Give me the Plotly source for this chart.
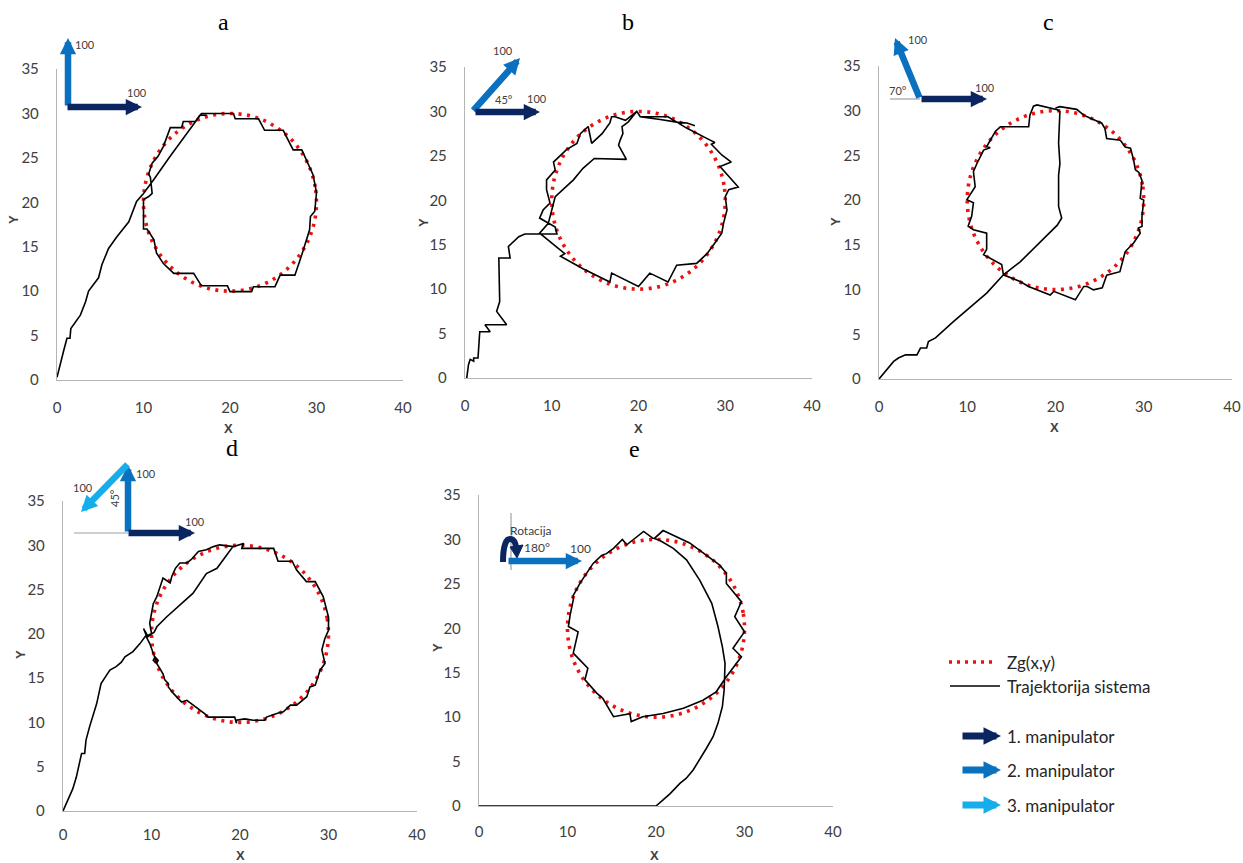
import plotly.graph_objects as go

W, H = 1243, 863

# ---------------- data ----------------
PANELS = ["a", "b", "c", "d", "e"]
X_TICKS = [0, 10, 20, 30, 40]
Y_TICKS = [0, 5, 10, 15, 20, 25, 30, 35]

# reference circle Zg(x,y) (centre 20,20, r 10)
CIRCLE_X = [30, 29.85, 29.40, 28.66, 27.66, 26.43, 25.00, 23.42, 21.74, 20, 18.26, 16.58, 15.00,
            13.57, 12.34, 11.34, 10.60, 10.15, 10, 10.15, 10.60, 11.34, 12.34, 13.57, 15.00,
            16.58, 18.26, 20, 21.74, 23.42, 25.00, 26.43, 27.66, 28.66, 29.40, 29.85, 30]
CIRCLE_Y = [20, 21.74, 23.42, 25.00, 26.43, 27.66, 28.66, 29.40, 29.85, 30, 29.85, 29.40, 28.66,
            27.66, 26.43, 25.00, 23.42, 21.74, 20, 18.26, 16.58, 15.00, 13.57, 12.34, 11.34,
            10.60, 10.15, 10, 10.15, 10.60, 11.34, 12.34, 13.57, 15.00, 16.58, 18.26, 20]

TRAJ_A = [(0, 0.3), (0.4, 1.7), (0.8, 3.4), (1.15, 4.7), (1.5, 4.7), (1.6, 5.8), (2.7, 7.3), (3.3, 8.8),
          (3.65, 10), (4.8, 11.5), (5.2, 13), (5.96, 14.8), (6.9, 16.1), (8.3, 17.8), (9.2, 20.1),
          (10, 21), (11.15, 22.5), (13.1, 25.2), (15, 27.8), (16.7, 30), (20.4, 30), (20.6, 29.4),
          (23.3, 29.4), (24.0, 28.1), (26.15, 28.1), (27.3, 25.9), (28.3, 25.9), (29.6, 23.1),
          (30, 21.1), (29.8, 19), (29.3, 18.4), (29.2, 16.9), (28.3, 14.1), (27.5, 11.8),
          (25.8, 11.8), (25.2, 10.5), (22.7, 10.5), (22.5, 9.95), (20, 9.95), (19.7, 10.6),
          (16.7, 10.6), (15.8, 12), (13.5, 12), (12.3, 13.1), (11.5, 14.3), (11.2, 15.8),
          (10.4, 17), (10, 17), (10, 20.3), (10.6, 20.65), (11, 21), (10.8, 22.8), (10.6, 23.2),
          (11, 24.4), (11.7, 25.2), (12.3, 26.3), (13.1, 28.4), (14.4, 28.4), (14.6, 29.1),
          (16, 29.1), (16.5, 29.8), (17.3, 29.8)]

TRAJ_B = [(0.2, 0), (0.4, 1.5), (0.6, 2.1), (1.0, 1.9), (1.0, 2.25), (1.5, 2.25), (1.7, 5.2), (2.9, 5.2),
          (2.3, 6.0), (4.8, 6.0), (3.65, 7.5), (4.0, 8.6), (3.9, 13.5), (5.2, 13.5), (5.0, 14.8),
          (5.6, 15.35), (6.2, 15.9), (6.9, 16.2), (10.6, 16.2), (10.4, 17.0), (8.6, 18.0), (9.0, 18.9),
          (9.8, 19.7), (9.4, 21.2), (9.4, 22.3), (10.4, 23.4), (10.2, 24.3), (11.7, 25.7),
          (12.9, 26.4), (13.3, 27.5), (14.2, 28.3), (14.6, 26.4), (15.8, 27.5), (16.7, 28.7),
          (16.9, 29.4), (17.3, 29.4), (18.5, 29.0), (19.8, 30.0), (20.2, 29.4), (23.4, 29.4),
          (25.6, 28.1), (28.2, 26.8), (28.8, 26.5), (28.4, 26.3), (29.6, 25.1), (30.7, 24.3),
          (29.4, 23.8), (31.5, 21.5), (30.4, 21.2), (30, 20.4), (30.2, 18.9), (29.8, 17.4),
          (29.6, 16.3), (28.8, 15.2), (27.9, 14.0), (26.7, 12.9), (24.4, 12.7), (23.4, 10.8),
          (21.3, 11.8), (20.0, 10.3), (16.9, 11.8), (16.7, 10.8), (13.6, 12.3), (11.0, 13.7),
          (11.5, 14.0), (8.6, 16.3), (9.6, 17.4), (10.4, 20.4), (12.5, 22.3), (13.6, 23.6),
          (14.9, 24.7), (18.6, 24.6), (17.7, 26.2), (17.9, 26.8), (18.2, 27.5), (18.1, 28.3),
          (18.8, 28.8), (19.8, 30), (20.2, 29.4), (22.5, 29.1), (24.4, 28.8), (25.6, 28.7),
          (26.5, 28.4)]

TRAJ_C = [(0, 0), (1.66, 1.97), (2.2, 2.35), (3, 2.7), (4.3, 2.7), (4.7, 3.46), (5.4, 3.46), (5.6, 4.2),
          (6.4, 4.6), (8.46, 6.44), (12.2, 9.6), (14.1, 11.65), (16, 13.1), (18.3, 15.4), (20.2, 17.2),
          (20.7, 18), (20.35, 19.3), (20.35, 22.8), (20.5, 24.1), (20.35, 26.4), (20.5, 29.9),
          (20.2, 30.1), (17.9, 30.65), (17.5, 30.5), (17.1, 29.5), (16.96, 28.2), (15.1, 28.2),
          (13.75, 28.2), (13.2, 27.7), (12.2, 26), (12.6, 25.85), (11.85, 25.6), (11.1, 24.1),
          (10.7, 23.2), (10.9, 21.5), (9.96, 20.06), (10.7, 19.7), (10.5, 18.2), (10.1, 17.1),
          (10.7, 16.7), (12.2, 16.3), (12.2, 14.5), (11.85, 13.9), (13.4, 13.1), (13.9, 12.8),
          (14.1, 11.65), (16, 10.9), (16.95, 10.35), (19.4, 9.4), (19.8, 9.8), (21.5, 9.2),
          (22.25, 8.85), (23.2, 10.35), (23.6, 10.35), (24.3, 9.97), (25.3, 10.2), (25.8, 11.6),
          (27.3, 12.0), (27.9, 14.25), (28.85, 15.2), (29.6, 16.3), (29.4, 16.9), (29.8, 17.05),
          (29.8, 18.2), (30, 20), (29.6, 20.2), (29.8, 22.2), (29.45, 23.1), (29.05, 23.4),
          (28.85, 24.5), (28.5, 25.8), (27.9, 25.95), (27.35, 26.7), (25.8, 26.9), (25.6, 28),
          (25.25, 28.6), (23.95, 29.15), (23.2, 29.5), (22.4, 30.15), (21.3, 30.3), (20.5, 30.45),
          (20, 30.3)]

TRAJ_D = [(0, 0), (0.94, 2.3), (1.1, 2.5), (1.5, 3.8), (2.1, 6.5), (2.45, 6.5), (2.6, 8), (3, 9.5),
          (3.8, 12.1), (4.3, 14.4), (5.3, 15.9), (6, 16.3), (6.6, 16.8), (7, 17.4), (7.9, 18),
          (8.7, 18.9), (9.4, 19.85), (9.1, 20.6), (9.6, 19.7), (10.3, 20.2), (10.6, 20.8),
          (11.7, 21.9), (13.2, 23.25), (14.7, 24.6), (16.2, 26.8), (17.4, 27.4), (18.5, 28.9),
          (19.2, 29.85), (20.4, 30.2), (20.2, 29.65), (23.8, 29.65), (24.3, 28.2), (25.9, 28.2),
          (26.4, 27.2), (27.5, 25.9), (28.5, 25.9), (29.4, 24.2), (30, 21.9), (30, 20.4),
          (29.6, 19.5), (29.25, 18.2), (29.6, 16.65), (29.05, 15.9), (28.5, 14.2), (27.9, 14),
          (27.55, 12.9), (26.4, 11.95), (25.7, 11.95), (24.9, 11.2), (24.15, 11.0), (23, 10.6),
          (22.8, 10.25), (21.5, 10.25), (20.55, 10.4), (19.6, 10.25), (19.6, 9.9), (19.4, 10.6),
          (17.75, 10.55), (17, 10.6), (16.4, 10.6), (16, 11), (14, 12.5), (13.4, 12.3),
          (12.5, 13.25), (11.9, 14.0), (11.9, 14.4), (11.5, 14.8), (11.3, 15.5), (10.6, 16.65),
          (10.2, 17), (10.4, 17.4), (10.75, 17.0), (10.6, 16.7), (9.8, 18.9), (9.4, 19.7),
          (10, 20.05), (9.8, 21.2), (10, 22.3), (10.2, 23.4), (10.6, 24.2), (10.95, 25.3),
          (11.3, 26.3), (12.1, 25.75), (12.3, 26.5), (12.7, 27.4), (13.2, 28), (14, 28),
          (14.5, 28.4), (15.3, 29.3), (16.2, 29.5), (17, 29.85), (17.7, 30.05), (19.25, 29.85),
          (20.4, 30.2)]

TRAJ_E = [(0, 0), (20, 0), (20.8, 0.7), (21.6, 1.4), (22.7, 2.55), (23.4, 3.1), (24.2, 4.05),
          (24.95, 5.2), (25.7, 6.5), (26.45, 7.8), (27.0, 9.3), (27.5, 11.2), (27.7, 13.05),
          (27.8, 16.05), (27.5, 17.9), (27.0, 20.2), (26.3, 22.8), (24.95, 25.4), (23.45, 27.7),
          (21.95, 29), (20.4, 29.9), (19.8, 30.1), (20.8, 31.0), (23.8, 29.6), (24.6, 29),
          (27.2, 27.1), (27.95, 26.2), (27.95, 25.05), (29.65, 23), (28.9, 21.3), (30, 19.6),
          (28.7, 17.75), (29.65, 16.8), (27.95, 14.55), (26.8, 12.85), (25.3, 11.9), (23.1, 11),
          (20.8, 10.4), (18.5, 10.05), (17.2, 9.5), (17.05, 10.4), (15.2, 10.05), (14.0, 12.1),
          (13.3, 12.7), (11.97, 14.2), (12.3, 15.5), (10.65, 17.2), (11.2, 19.6), (10.1, 20.2),
          (10.3, 21.5), (10.65, 23.2), (10.65, 23.7), (11.4, 25.05), (12.9, 27.3), (13.85, 28.2),
          (14.4, 28.4), (15.2, 29), (16.2, 30), (16.7, 29.4), (18.6, 30.9), (19.7, 30.1)]

TRAJS = [TRAJ_A, TRAJ_B, TRAJ_C, TRAJ_D, TRAJ_E]
LEGEND_LABELS = ["Zg(x,y)", "Trajektorija sistema", "1. manipulator", "2. manipulator", "3. manipulator"]

# ---------------- layout helpers ----------------
def px(x):
    return x / W

def py(y):
    return 1 - y / H

# plot-area boxes in pixels: (left, right, top, bottom)
BOXES = [(57, 403, 69, 380), (465, 812, 67, 378), (879, 1232, 66, 379),
         (63, 417, 501, 811), (479, 833, 495, 806)]
XSTANDOFF = [14, 14, 14, 10, 12]
TITLE_POS = [(223, 22), (628, 22), (1048, 22), (232, 448), (634, 449)]
XT_POS = [(228, 428), (638, 428), (1054, 427), (240, 855), (654, 855)]
YT_POS = [(13, 220), (423, 222), (835, 222), (20, 655), (437, 648)]

NAVY = "#0b2560"
BLUE = "#0a70c0"
LIGHT = "#16aeea"
TXT = "#404040"
AXC = "#b4b4b4"

fig = go.Figure()
annotations = []
shapes = []


def label(x, y, s, size=11, angle=0, color=TXT, anchor="center", family="Lato, Open Sans, sans-serif"):
    annotations.append(dict(x=px(x), y=py(y), xref="paper", yref="paper", text=s, showarrow=False,
                            textangle=angle, xanchor=anchor, yanchor="middle",
                            font=dict(family=family, size=size, color=color)))


for i, (name, traj) in enumerate(zip(PANELS, TRAJS)):
    sfx = "" if i == 0 else str(i + 1)
    xa, ya = "x" + sfx, "y" + sfx
    fig.add_trace(go.Scatter(x=CIRCLE_X, y=CIRCLE_Y, mode="lines", xaxis=xa, yaxis=ya,
                             line=dict(color="#ee1111", width=3.6, dash="3px,5.5px", shape="spline"),
                             showlegend=False, hoverinfo="skip"))
    fig.add_trace(go.Scatter(x=[p[0] for p in traj], y=[p[1] for p in traj], mode="lines",
                             xaxis=xa, yaxis=ya, line=dict(color="black", width=1.6),
                             showlegend=False, hoverinfo="skip"))
    l, r, t, b = BOXES[i]
    axcommon = dict(showline=True, linecolor=AXC, linewidth=1.4, showgrid=False, zeroline=False,
                    ticks="", automargin=False,
                    tickfont=dict(family="Lato, Open Sans, sans-serif", size=15, color=TXT))
    fig.update_layout(**{
        "xaxis" + sfx: dict(domain=[px(l), px(r)], range=[0, 40], tickvals=X_TICKS,
                            anchor=ya, ticklabelstandoff=XSTANDOFF[i], **axcommon),
        "yaxis" + sfx: dict(domain=[py(b), py(t)], range=[0, 35], tickvals=Y_TICKS,
                            anchor=xa, ticklabelstandoff=14, **axcommon),
    })
    tx, ty = TITLE_POS[i]
    label(tx, ty, name, size=24, color="black", family="Liberation Serif, serif")
    xx, xy = XT_POS[i]
    label(xx, xy, "<b>X</b>", size=13, family="Liberation Sans, sans-serif")
    yx, yy = YT_POS[i]
    label(yx, yy, "<b>Y</b>", size=13, angle=-90, family="Liberation Sans, sans-serif")


def arrow(x0, y0, x1, y1, color, w=6.5, size=0.5):
    annotations.append(dict(x=px(x1), y=py(y1), xref="paper", yref="paper", ax=x0 - x1, ay=y0 - y1,
                            axref="pixel", ayref="pixel", text="", showarrow=True, arrowhead=2,
                            arrowsize=size, arrowwidth=w, arrowcolor=color, standoff=0, startstandoff=0))


def gline(x0, y0, x1, y1, color="#a0a0a0", w=1.2, dash=None):
    shapes.append(dict(type="line", xref="paper", yref="paper", x0=px(x0), y0=py(y0), x1=px(x1),
                       y1=py(y1), line=dict(color=color, width=w, dash=dash)))


# panel a
arrow(68, 107, 68, 38, BLUE)
arrow(66, 107, 142, 107, NAVY)
label(85, 44, "100")
label(137, 93, "100")
# panel b
arrow(472, 112, 520, 58, BLUE)
arrow(474, 112, 540, 112, NAVY)
label(503, 51, "100")
label(504, 99, "45°")
label(537, 98, "100")
# panel c
gline(890, 99, 920, 99)
arrow(920, 99, 895, 38, BLUE)
arrow(920, 99, 987, 99, NAVY)
label(918, 40, "100")
label(898, 90, "70°")
label(985, 87, "100")
# panel d
gline(74, 533, 128, 533)
arrow(128, 533, 128, 465, BLUE)
arrow(127, 533, 195, 533, NAVY)
arrow(129, 463, 81, 512, LIGHT)
label(146, 473, "100")
label(83, 487, "100")
label(115, 498, "45°", angle=-90)
label(195, 521, "100")
# panel e
gline(511, 513, 511, 570)
arrow(507, 561, 582, 561, BLUE)
label(531, 530, "Rotacija", size=12)
label(537, 547, "180°", size=12)
label(580, 548, "100", size=12)
rot = "M {:.5f},{:.5f} C {:.5f},{:.5f} {:.5f},{:.5f} {:.5f},{:.5f} C {:.5f},{:.5f} {:.5f},{:.5f} {:.5f},{:.5f}".format(
    px(503), py(562), px(503), py(546), px(506), py(539), px(510), py(539),
    px(514), py(539), px(516), py(543), px(516), py(549))
shapes.append(dict(type="path", xref="paper", yref="paper", path=rot,
                   line=dict(color=NAVY, width=6)))
head = "M {:.5f},{:.5f} L {:.5f},{:.5f} L {:.5f},{:.5f} Z".format(
    px(510), py(547), px(523), py(545), px(517), py(558))
shapes.append(dict(type="path", xref="paper", yref="paper", path=head,
                   line=dict(color=NAVY, width=1), fillcolor=NAVY))

# legend (drawn manually)
gline(949, 662, 993, 662, color="#ee1111", w=3.6, dash="3px,5px")
gline(950, 686, 1000, 686, color="black", w=1.6)
arrow(961, 736, 1001, 736, NAVY, w=7)
arrow(961, 770, 1001, 770, BLUE, w=7)
arrow(961, 805, 1001, 805, LIGHT, w=7)
leg_y = [662, 686, 736, 770, 805]
for s, yy in zip(LEGEND_LABELS, leg_y):
    label(1005, yy, s, size=17, color="#262626", anchor="left")

fig.update_layout(width=W, height=H, autosize=False, margin=dict(l=0, r=0, t=0, b=0, pad=0, autoexpand=False),
                  paper_bgcolor="white", plot_bgcolor="white", annotations=annotations, shapes=shapes,
                  showlegend=False)

fig.write_html("out.html", config={"displayModeBar": False},
               post_script="document.body.style.margin='0';document.body.style.overflow='hidden';")
